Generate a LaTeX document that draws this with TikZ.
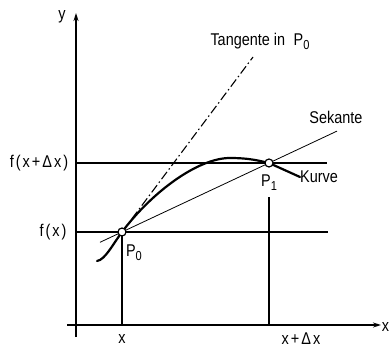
\documentclass[tikz,border=0pt]{standalone}
\usepackage{fontspec}
\setmainfont{Liberation Sans}[FakeStretch=0.85]
\newfontfamily\spaced{Liberation Sans}[FakeStretch=0.85,LetterSpace=12]
\usetikzlibrary{arrows.meta}
\newcommand{\lowsub}[1]{\raisebox{-0.45ex}{\fontsize{13}{13}\selectfont #1}}
\begin{document}
\begin{tikzpicture}[x=1pt,y=-1pt,
  every node/.style={font=\fontsize{17}{19}\selectfont, inner sep=0pt},
  axis/.style={line width=1.6pt, -{Stealth[length=8pt,width=5pt]}},
  guide/.style={line width=1.3pt},
  curveline/.style={line width=2.2pt, line cap=round},
  secant/.style={line width=0.8pt},
  tangentline/.style={line width=1.1pt, dash pattern=on 9pt off 3pt on 1.5pt off 3pt},
  pt/.style={circle, draw, line width=1.2pt, fill=white, inner sep=0pt, minimum size=8pt}]
\useasboundingbox (0,0) rectangle (390,347);
% coordinates
\coordinate (p0) at (122,232);
\coordinate (p1) at (269,163);
\coordinate (ybot) at (76,337);
\coordinate (ytop) at (76,13);
\coordinate (xleft) at (67,325);
\coordinate (xright) at (381,325);
\coordinate (fxa) at (76,232);
\coordinate (fxb) at (328,232);
\coordinate (fda) at (76,163);
\coordinate (fdb) at (327,163);
\coordinate (xfoot) at (122,325);
\coordinate (dxtop) at (269,197);
\coordinate (dxfoot) at (269,325);
\coordinate (s0) at (100,242.3);
\coordinate (s1) at (337,131.1);
\coordinate (tanend) at (253,57);
\coordinate (c0) at (97,261);
\coordinate (cmax) at (230,158);
% axes
\draw[axis] (ybot) -- (ytop);
\draw[axis] (xleft) -- (xright);
% guides
\draw[guide] (fxa) -- (fxb);
\draw[guide] (fda) -- (fdb);
\draw[guide] (p0) -- (xfoot);
\draw[guide] (dxtop) -- (dxfoot);
% secant and tangent
\draw[secant] (s0) -- (s1);
\draw[tangentline] (p0) -- (tanend);
% curve
\draw[curveline] (c0) .. controls (105,260) and (113,244) .. (p0)
  .. controls (152,192) and (198,158) .. (cmax)
  .. controls (250,158) and (260,161) .. (p1);
% labels
\node (ylab) at (62,17) {y};
\node (xlab) at (385.5,327) {x};
\node (fxlab) at (53,232) {\spaced f(x)};
\node (fdxlab) at (39,163) {\spaced f(x+Δx)};
\node (xtick) at (122,339) {x};
\node (xdxlab) at (301,339) {\spaced x+Δx};
\node (P0lab) at (134,253) {P\lowsub{0}};
\node (P1lab) at (269,183) {P\lowsub{1}};
\node (tanlab) at (260,41) {Tangente in\enspace P\lowsub{0}};
\node (seklab) at (336,117) {Sekante};
\node[anchor=west] (kurvelab) at (300,177) {Kurve};
\draw[curveline] (p1) -- (kurvelab.west);
% points
\node[pt] (P0) at (p0) {};
\node[pt] (P1) at (p1) {};
\end{tikzpicture}
\end{document}
